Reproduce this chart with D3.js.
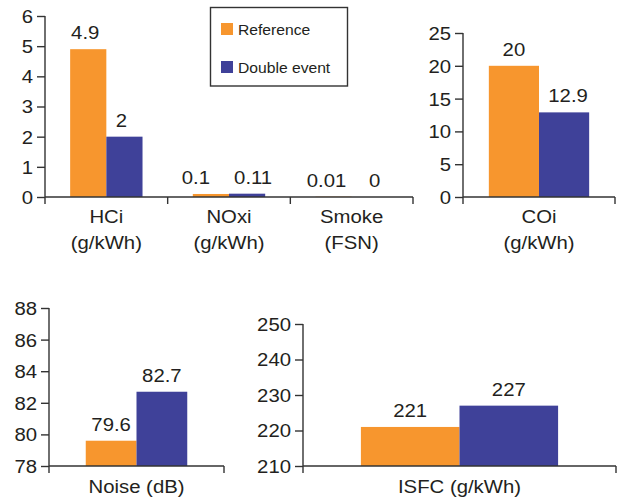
<!DOCTYPE html>
<html>
<head>
<meta charset="utf-8">
<script src="https://cdn.jsdelivr.net/npm/d3@7"></script>
<style>
  html, body { margin: 0; padding: 0; background: #fff; }
  svg { display: block; }
  text { font-family: "Liberation Sans", Arial, Helvetica, sans-serif; fill: #231f20; }
</style>
</head>
<body>
<svg id="chart" width="622" height="502"></svg>
<script>
// ---- Data ----
const seriesNames = ["Reference", "Double event"];
const seriesColors = ["#f7962e", "#3f4199"];

const emissionCategories = [["HCi", "(g/kWh)"], ["NOxi", "(g/kWh)"], ["Smoke", "(FSN)"]];
const emissionReference = [4.9, 0.1, 0.01];
const emissionDouble = [2, 0.11, 0];
const emissionTicks = [0, 1, 2, 3, 4, 5, 6];

const coCategories = [["COi", "(g/kWh)"]];
const coReference = [20];
const coDouble = [12.9];
const coTicks = [0, 5, 10, 15, 20, 25];

const noiseCategories = [["Noise (dB)"]];
const noiseReference = [79.6];
const noiseDouble = [82.7];
const noiseTicks = [78, 80, 82, 84, 86, 88];

const isfcCategories = [["ISFC (g/kWh)"]];
const isfcReference = [221];
const isfcDouble = [227];
const isfcTicks = [210, 220, 230, 240, 250];

// ---- Layout (styles/positions) ----
const SX = 1.13;      // horizontal stretch of the original typography
const FS = 18;
const axisColor = "#333";

const panels = [
  { cats: emissionCategories, ref: emissionReference, dbl: emissionDouble, ticks: emissionTicks,
    x0: 45, x1: 413, yTop: 16, yBot: 197, groupFrac: 0.59, labelY: [223, 249],
    labelNudge: [[-3, -3], [-15, 6], [-7, 5]] },
  { cats: coCategories, ref: coReference, dbl: coDouble, ticks: coTicks,
    x0: 463, x1: 615, yTop: 33, yBot: 197, groupFrac: 0.66, labelY: [223, 249],
    labelNudge: [[0, 4]] },
  { cats: noiseCategories, ref: noiseReference, dbl: noiseDouble, ticks: noiseTicks,
    x0: 49, x1: 224, yTop: 308, yBot: 466, groupFrac: 0.58, labelY: [493],
    labelNudge: [[0, 0]] },
  { cats: isfcCategories, ref: isfcReference, dbl: isfcDouble, ticks: isfcTicks,
    x0: 303, x1: 616, yTop: 324, yBot: 466, groupFrac: 0.63, labelY: [493],
    labelNudge: [[0, 0]] }
];

const svg = d3.select("#chart");

function stretchedText(g, x, y, str, size, anchor, k) {
  return g.append("text")
    .attr("transform", `translate(${x},${y}) scale(${k},1)`)
    .attr("text-anchor", anchor)
    .style("font-size", size + "px")
    .text(str);
}

panels.forEach(p => {
  const g = svg.append("g");
  const names = p.cats.map(c => c.join(" "));
  const x = d3.scaleBand().domain(names).range([p.x0, p.x1]).padding(0);
  const y = d3.scaleLinear().domain([p.ticks[0], p.ticks[p.ticks.length - 1]]).range([p.yBot, p.yTop]);
  const inner = d3.scaleBand().domain(seriesNames)
    .range([0, x.bandwidth() * p.groupFrac]).padding(0);
  const groupOffset = x.bandwidth() * (1 - p.groupFrac) / 2;

  const rows = names.map((n, i) => ({ name: n, values: [p.ref[i], p.dbl[i]] }));

  // bars
  rows.forEach((r, ri) => {
    r.values.forEach((v, si) => {
      const bx = x(r.name) + groupOffset + inner(seriesNames[si]);
      g.append("rect")
        .attr("x", bx)
        .attr("y", y(v))
        .attr("width", inner.bandwidth())
        .attr("height", Math.max(0, y(p.ticks[0]) - y(v)))
        .attr("fill", seriesColors[si]);
      stretchedText(g, bx + inner.bandwidth() / 2 + p.labelNudge[ri][si], y(v) - 10,
        String(v), FS, "middle", SX);
    });
  });

  // y axis
  const yAxis = g.append("g")
    .attr("transform", `translate(${p.x0},0)`)
    .call(d3.axisLeft(y).tickValues(p.ticks).tickSize(8).tickSizeOuter(0).tickPadding(4)
      .tickFormat(d3.format("d")));
  yAxis.select(".domain").remove();
  yAxis.selectAll(".tick line").attr("stroke", axisColor).attr("stroke-width", 1.4);
  yAxis.selectAll(".tick text")
    .attr("x", null).attr("dy", "0.36em")
    .attr("transform", `translate(-12,0) scale(${SX},1)`)
    .attr("fill", "#231f20")
    .style("font-size", FS + "px")
    .style("font-family", "'Liberation Sans', Arial, Helvetica, sans-serif");

  // vertical axis line (extends below baseline like a tick)
  g.append("line")
    .attr("x1", p.x0).attr("x2", p.x0)
    .attr("y1", y(p.ticks[p.ticks.length - 1])).attr("y2", p.yBot + 7)
    .attr("stroke", axisColor).attr("stroke-width", 1.4);

  // x baseline
  g.append("line")
    .attr("x1", p.x0).attr("x2", p.x1)
    .attr("y1", y(p.ticks[0])).attr("y2", y(p.ticks[0]))
    .attr("stroke", axisColor).attr("stroke-width", 1.4);

  // x ticks at band boundaries
  const edges = names.map(n => x(n) + x.step()).filter(e => e > p.x0);
  edges.forEach(e => {
    g.append("line")
      .attr("x1", e).attr("x2", e)
      .attr("y1", y(p.ticks[0])).attr("y2", y(p.ticks[0]) + 7)
      .attr("stroke", axisColor).attr("stroke-width", 1.4);
  });

  // category labels
  p.cats.forEach((c, i) => {
    const cx = x(names[i]) + x.bandwidth() / 2;
    c.forEach((line, li) => {
      stretchedText(g, cx, p.labelY[li], line, FS, "middle", SX);
    });
  });
});

// ---- Legend ----
const lg = svg.append("g");
lg.append("rect")
  .attr("x", 210.5).attr("y", 7.5).attr("width", 137).attr("height", 78.5)
  .attr("fill", "#fff").attr("stroke", axisColor).attr("stroke-width", 1.4);
seriesNames.forEach((s, i) => {
  const yy = [23, 61][i];
  lg.append("rect").attr("x", 221).attr("y", yy).attr("width", 12).attr("height", 12)
    .attr("fill", seriesColors[i]);
  stretchedText(lg, 238, yy + 11.5, s, 14.5, "start", 1.08);
});
</script>
</body>
</html>
